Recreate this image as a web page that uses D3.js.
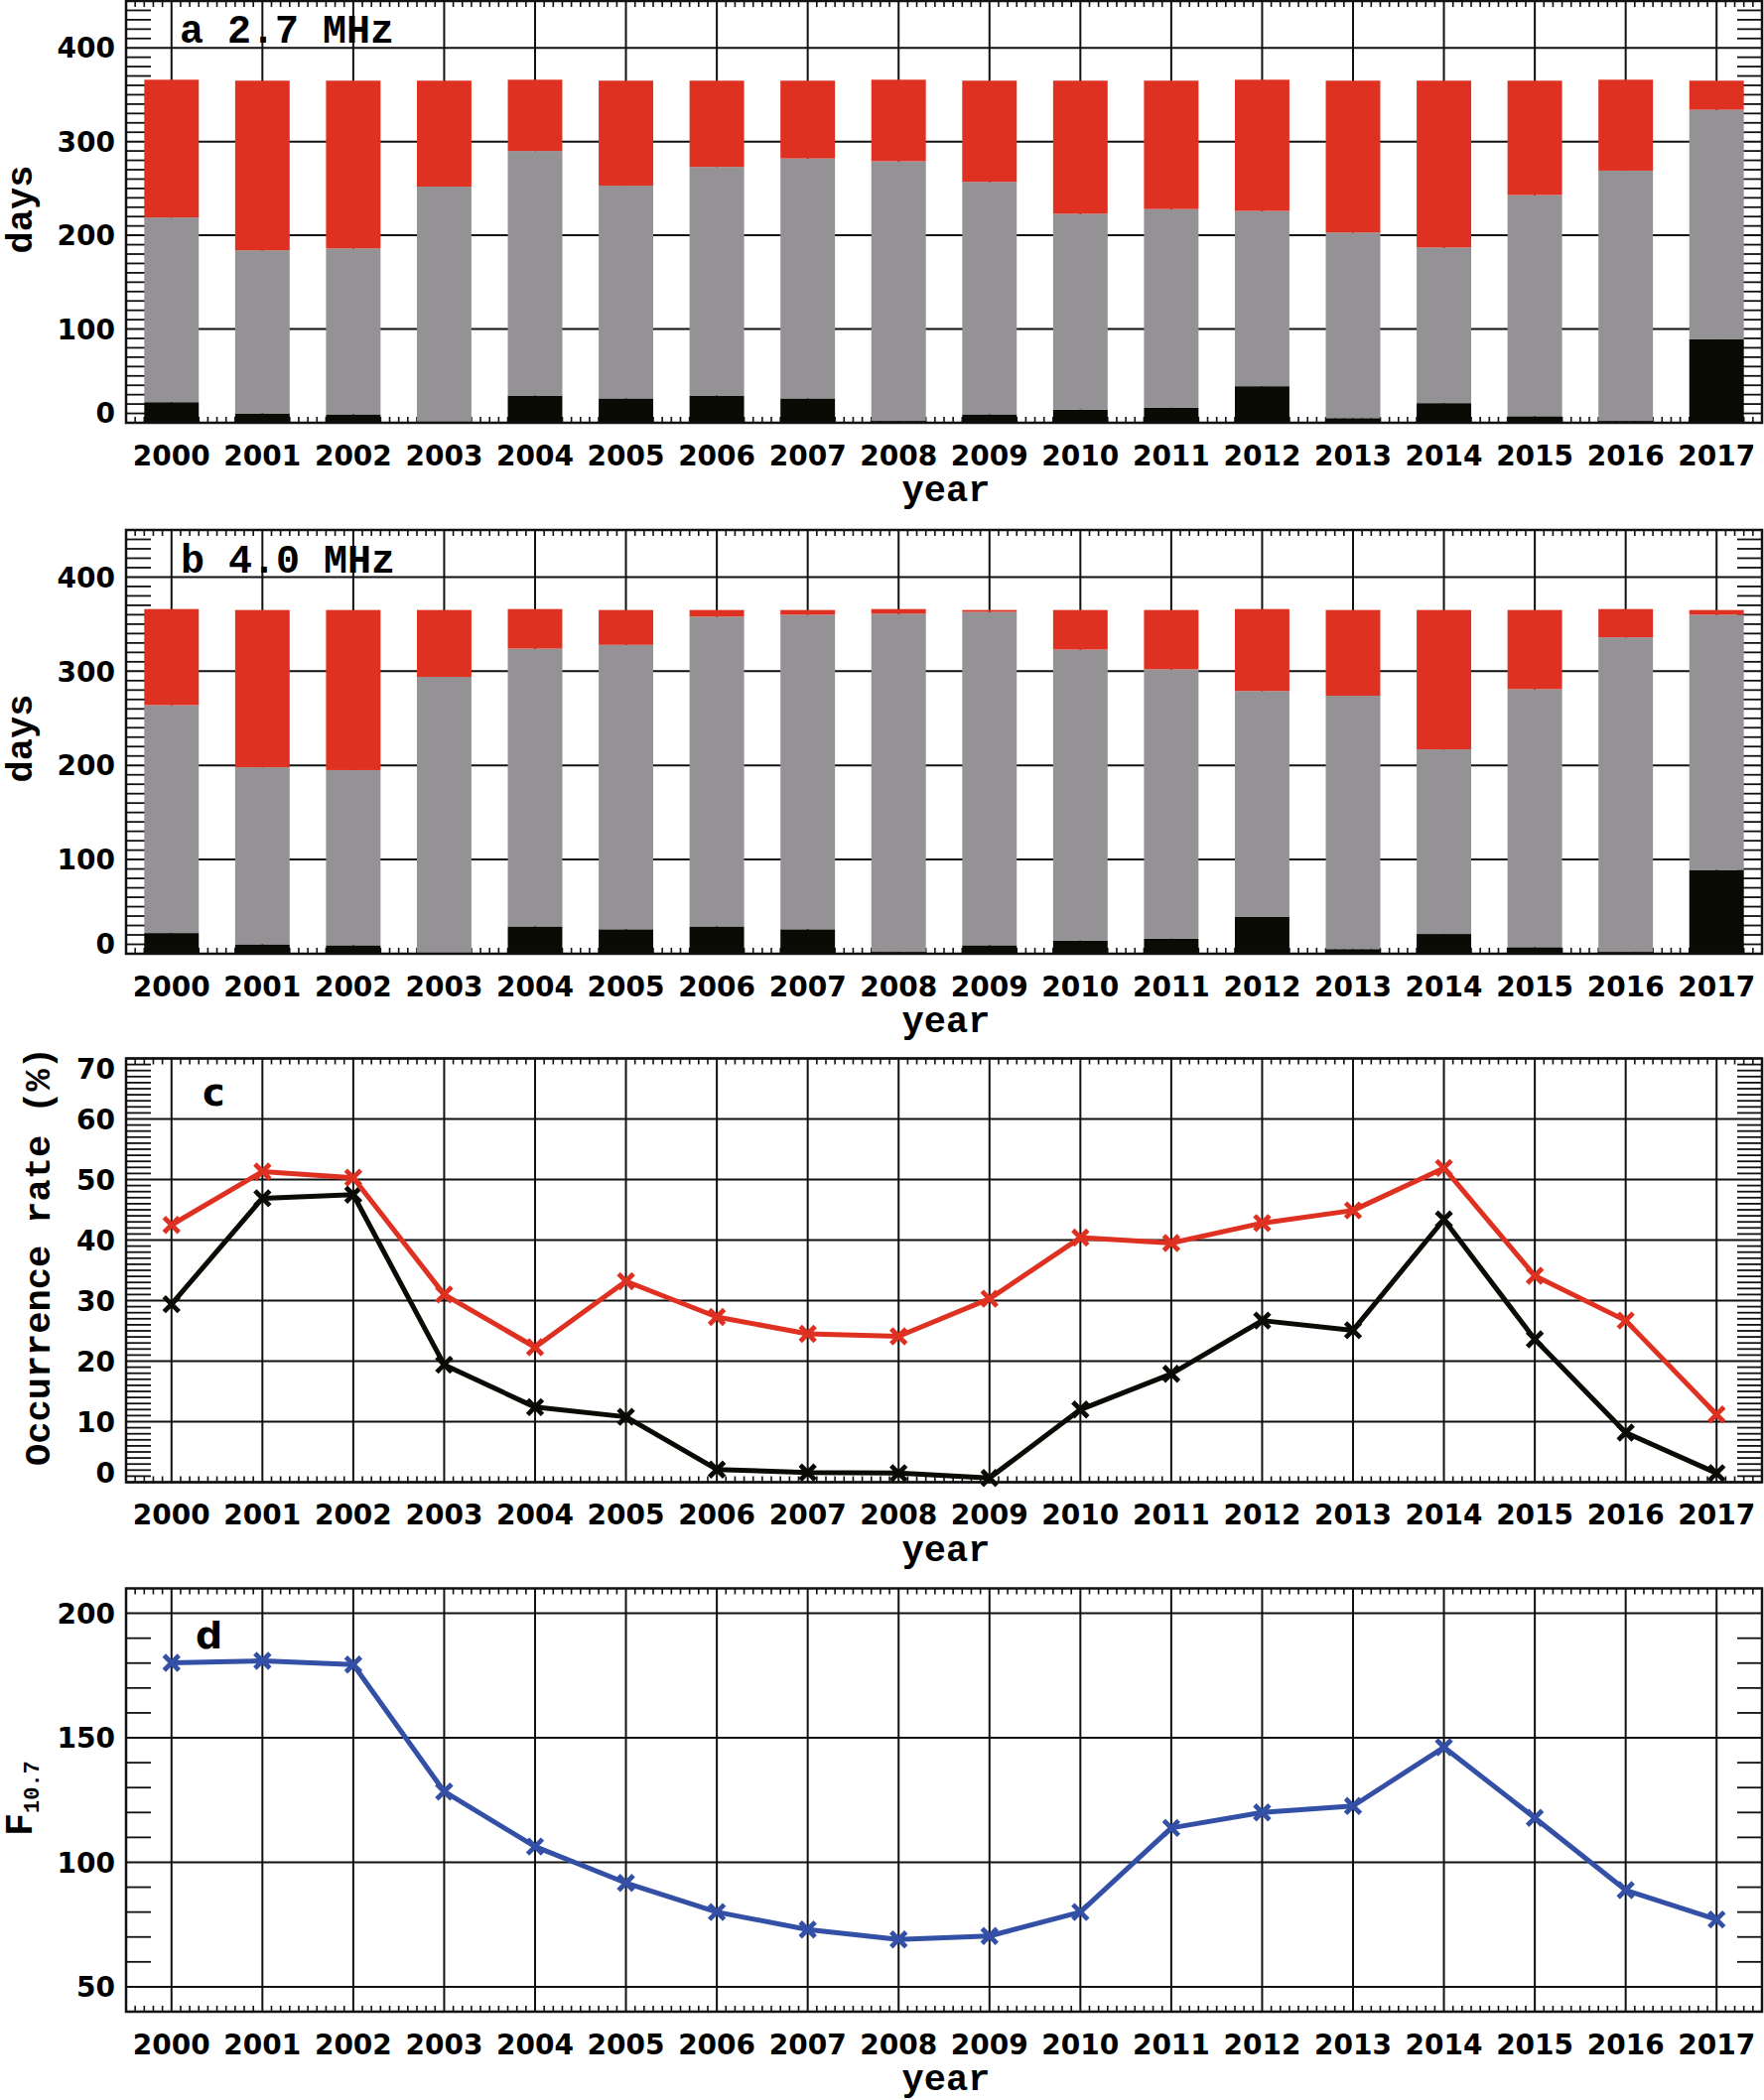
<!DOCTYPE html>
<html>
<head>
<meta charset="utf-8">
<script src="https://cdn.jsdelivr.net/npm/d3@7"></script>
<style>
  body { margin: 0; background: #fff; }
  svg { display: block; }
</style>
</head>
<body>
<svg id="chart" width="1777" height="2116"></svg>
<script>
// ---------------- DATA ----------------
const years = [2000, 2001, 2002, 2003, 2004, 2005, 2006, 2007, 2008, 2009, 2010, 2011, 2012, 2013, 2014, 2015, 2016, 2017];
const yearLabels = ["2000","2001","2002","2003","2004","2005","2006","2007","2008","2009","2010","2011","2012","2013","2014","2015","2016","2017"];

// black segment (days without data) - same in panels a and b
const noDataDays = [22, 10, 9, 0, 29, 26, 29, 26, 2, 9, 14, 16, 39, 5, 21, 7, 2, 89];

// panel a: 2.7 MHz
const quiet27 = [197, 174, 177, 252, 261, 227, 244, 256, 277, 248, 209, 212, 187, 198, 166, 236, 267, 245];
const event27 = [147, 181, 179, 113, 76, 112, 92, 83, 87, 108, 142, 137, 140, 162, 178, 122, 97, 31];

// panel b: 4.0 MHz
const quiet40 = [242, 188, 186, 294, 295, 302, 329, 334, 359, 354, 309, 286, 240, 269, 196, 274, 334, 271];
const event40 = [102, 167, 170, 71, 42, 37, 7, 5, 5, 2, 42, 63, 87, 91, 148, 84, 30, 5];

// panel c: occurrence rate (%)
const rate27 = [42.5, 51.3, 50.3, 31.0, 22.3, 33.2, 27.3, 24.5, 24.1, 30.3, 40.4, 39.5, 42.8, 44.9, 51.9, 34.1, 26.7, 11.2];
const rate40 = [29.4, 46.9, 47.5, 19.4, 12.4, 10.8, 2.1, 1.6, 1.5, 0.7, 12.0, 17.9, 26.7, 25.1, 43.4, 23.6, 8.2, 1.5];

// panel d: F10.7
const f107 = [180.1, 180.9, 179.4, 128.4, 106.3, 91.7, 80.0, 73.0, 69.0, 70.4, 80.0, 113.8, 120.0, 122.6, 146.2, 117.8, 88.8, 77.0];

// tick values
const dayTicks = [0, 100, 200, 300, 400];
const rateTicks = [0, 10, 20, 30, 40, 50, 60, 70];
const fluxTicks = [50, 100, 150, 200];

// ---------------- STYLE ----------------
const C_RED = "#df3121", C_GRAY = "#949295", C_BLACK = "#0b0b06", C_BLUE = "#3350a6";
const TICK_FONT = "'DejaVu Sans', 'Liberation Sans', sans-serif";
const MONO_FONT = "'Liberation Mono', 'Courier New', 'DejaVu Sans Mono', monospace";
const CAP = 20.4; // cap height of 28px tick font

const svg = d3.select("#chart");
const x = d3.scaleLinear().domain([1999.5, 2017.5]).range([127, 1775]);

function drawPanel(p) {
  const y = d3.scaleLinear().domain(p.domain).range([p.bottom, p.top]);
  const g = svg.append("g");

  // vertical grid lines at each year
  g.append("g").selectAll("line").data(years).join("line")
    .attr("x1", d => x(d)).attr("x2", d => x(d))
    .attr("y1", p.top).attr("y2", p.bottom)
    .attr("stroke", "#111").attr("stroke-width", 2);

  // horizontal grid lines
  g.append("g").selectAll("line").data(p.ticks).join("line")
    .attr("x1", x.range()[0]).attr("x2", x.range()[1])
    .attr("y1", d => y(d)).attr("y2", d => y(d))
    .attr("stroke", "#111").attr("stroke-width", 2);

  // minor x ticks every 0.1 year (top & bottom)
  const xm = d3.range(19996, 20175).filter(i => i % 10 !== 0).map(i => i / 10);
  const xt = g.append("g").attr("stroke", "#111").attr("stroke-width", 1.6);
  xt.selectAll("line.t").data(xm).join("line").attr("class", "t")
    .attr("x1", d => x(d)).attr("x2", d => x(d)).attr("y1", p.top).attr("y2", p.top + 6);
  xt.selectAll("line.b").data(xm).join("line").attr("class", "b")
    .attr("x1", d => x(d)).attr("x2", d => x(d)).attr("y1", p.bottom - 6).attr("y2", p.bottom);

  // minor y ticks (left & right)
  const n = Math.round((p.domain[1] - p.domain[0]) / p.minor);
  const ym = d3.range(1, n).map(i => p.domain[0] + i * p.minor)
    .filter(v => !p.ticks.some(t => Math.abs(t - v) < 1e-6));
  const yt = g.append("g").attr("stroke", "#111").attr("stroke-width", 1.8);
  yt.selectAll("line.l").data(ym).join("line").attr("class", "l")
    .attr("x1", x.range()[0]).attr("x2", x.range()[0] + 25).attr("y1", d => y(d)).attr("y2", d => y(d));
  yt.selectAll("line.r").data(ym).join("line").attr("class", "r")
    .attr("x1", x.range()[1] - 25).attr("x2", x.range()[1]).attr("y1", d => y(d)).attr("y2", d => y(d));

  // y tick labels
  g.append("g").selectAll("text").data(p.ticks).join("text")
    .attr("x", 116)
    .attr("y", d => {
      if (d === p.domain[0]) return y(d);
      if (d === p.domain[1]) return y(d) + CAP;
      return y(d) + CAP / 2;
    })
    .attr("text-anchor", "end")
    .attr("font-family", TICK_FONT).attr("font-weight", "bold").attr("font-size", 28)
    .attr("fill", "#000")
    .text(d => String(d));

  // x tick labels
  g.append("g").selectAll("text").data(years).join("text")
    .attr("x", d => x(d)).attr("y", p.bottom + 42.5)
    .attr("text-anchor", "middle")
    .attr("font-family", TICK_FONT).attr("font-weight", "bold").attr("font-size", 28)
    .attr("fill", "#000")
    .text((d, i) => yearLabels[i]);

  // x axis title
  g.append("text").attr("x", 953).attr("y", p.bottom + 79)
    .attr("text-anchor", "middle")
    .attr("font-family", MONO_FONT).attr("font-weight", "bold").attr("font-size", 37)
    .text("year");

  return { g, y };
}

function drawFrame(g, p) {
  g.append("rect")
    .attr("x", x.range()[0]).attr("y", p.top)
    .attr("width", x.range()[1] - x.range()[0]).attr("height", p.bottom - p.top)
    .attr("fill", "none").attr("stroke", "#111").attr("stroke-width", 2.5);
}

function drawBars(g, y, quiet, event) {
  const table = years.map((yr, i) => ({ year: yr, noData: noDataDays[i], quiet: quiet[i], event: event[i] }));
  const series = d3.stack().keys(["noData", "quiet", "event"])(table);
  const colors = { noData: C_BLACK, quiet: C_GRAY, event: C_RED };
  const bw = x(2000.3) - x(1999.7);
  g.append("g").selectAll("g").data(series).join("g")
    .attr("fill", d => colors[d.key])
    .selectAll("rect").data(d => d).join("rect")
    .attr("x", d => x(d.data.year) - bw / 2)
    .attr("width", bw)
    .attr("y", d => y(d[1]))
    .attr("height", d => Math.max(0, y(d[0]) - y(d[1])));
}

function drawLine(g, y, values, color) {
  const line = d3.line().x((d, i) => x(years[i])).y(d => y(d));
  g.append("path").datum(values)
    .attr("d", line).attr("fill", "none")
    .attr("stroke", color).attr("stroke-width", 5).attr("stroke-linejoin", "round");
  const s = 7.5;
  g.append("g").selectAll("path").data(values).join("path")
    .attr("transform", (d, i) => `translate(${x(years[i])},${y(d)})`)
    .attr("d", `M${-s},${-s}L${s},${s}M${-s},${s}L${s},${-s}`)
    .attr("stroke", color).attr("stroke-width", 4.8).attr("fill", "none");
}

function rotLabel(xb, yc, txt) {
  svg.append("text")
    .attr("transform", `translate(${xb},${yc}) rotate(-90)`)
    .attr("text-anchor", "middle")
    .attr("font-family", MONO_FONT).attr("font-weight", "bold").attr("font-size", 37)
    .text(txt);
}

// ---------------- PANEL A ----------------
const pA = { top: 1, bottom: 426, domain: [0, 450], ticks: dayTicks, minor: 10 };
let r = drawPanel(pA);
drawBars(r.g, r.y, quiet27, event27);
drawFrame(r.g, pA);
rotLabel(32, 211, "days");
svg.append("text").attr("x", 181).attr("y", pA.top + 42)
  .attr("font-family", MONO_FONT).attr("font-weight", "bold").attr("font-size", 40)
  .text("a 2.7 MHz");

// ---------------- PANEL B ----------------
const pB = { top: 534, bottom: 961, domain: [0, 450], ticks: dayTicks, minor: 10 };
r = drawPanel(pB);
drawBars(r.g, r.y, quiet40, event40);
drawFrame(r.g, pB);
rotLabel(32, 744, "days");
svg.append("text").attr("x", 182).attr("y", pB.top + 43)
  .attr("font-family", MONO_FONT).attr("font-weight", "bold").attr("font-size", 40)
  .text("b 4.0 MHz");

// ---------------- PANEL C ----------------
const pC = { top: 1066.5, bottom: 1493.5, domain: [0, 70], ticks: rateTicks, minor: 1 };
r = drawPanel(pC);
drawFrame(r.g, pC);
drawLine(r.g, r.y, rate40, C_BLACK);
drawLine(r.g, r.y, rate27, C_RED);
rotLabel(50, 1266, "Occurrence rate (%)");
svg.append("text").attr("x", 204).attr("y", pC.top + 47)
  .attr("font-family", TICK_FONT).attr("font-weight", "bold").attr("font-size", 38)
  .text("c");

// ---------------- PANEL D ----------------
const pD = { top: 1600.5, bottom: 2027, domain: [40, 210], ticks: fluxTicks, minor: 10 };
r = drawPanel(pD);
drawFrame(r.g, pD);
drawLine(r.g, r.y, f107, C_BLUE);
const fl = svg.append("text")
  .attr("transform", `translate(31.5,1812) rotate(-90)`)
  .attr("text-anchor", "middle")
  .attr("font-family", MONO_FONT).attr("font-weight", "bold");
fl.append("tspan").attr("font-size", 38).text("F");
fl.append("tspan").attr("font-size", 22).attr("dy", 7.5).text("10.7");
svg.append("text").attr("x", 197).attr("y", pD.top + 60.5)
  .attr("font-family", TICK_FONT).attr("font-weight", "bold").attr("font-size", 38)
  .text("d");
</script>
</body>
</html>
